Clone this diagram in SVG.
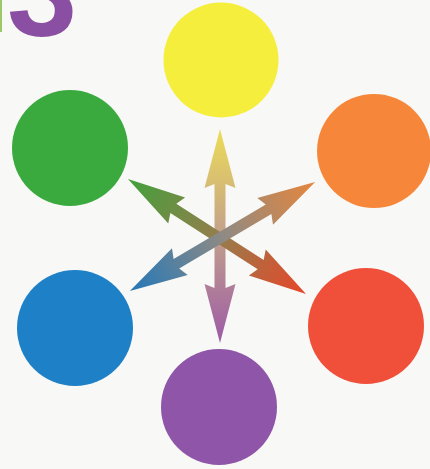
<svg xmlns="http://www.w3.org/2000/svg" width="430" height="469" viewBox="0 0 430 469">
<defs>
<style>
.digit{font-family:"Liberation Sans","DejaVu Sans",sans-serif;font-weight:bold;fill:#8a4ea2}
</style>
<linearGradient id="gV" gradientUnits="userSpaceOnUse" x1="-107" y1="0" x2="107" y2="0">
<stop offset="0" stop-color="#ecdc58"/><stop offset="0.5" stop-color="#c2a08c"/><stop offset="1" stop-color="#9c5aa6"/>
</linearGradient>
<linearGradient id="gGR" gradientUnits="userSpaceOnUse" x1="-106" y1="0" x2="106" y2="0">
<stop offset="0" stop-color="#42a03c"/><stop offset="0.5" stop-color="#947e4c"/><stop offset="1" stop-color="#e8462a"/>
</linearGradient>
<linearGradient id="gBO" gradientUnits="userSpaceOnUse" x1="-107.5" y1="0" x2="107.5" y2="0">
<stop offset="0" stop-color="#2478b8"/><stop offset="0.5" stop-color="#8e8a84"/><stop offset="1" stop-color="#e6863c"/>
</linearGradient>
</defs>
<rect width="430" height="469" fill="#f8f8f6"/>
<rect x="0" y="0" width="2" height="32" fill="#9cc86a"/>
<text class="digit" x="7" y="36" font-size="126">3</text>
<g id="connectors">
<path fill="url(#gV)" transform="translate(220,236) rotate(90)" d="M-107,0 L-48,-15.5 L-52,-5.5 L52,-5.5 L48,-15.5 L107,0 L48,15.5 L52,5.5 L-52,5.5 L-48,15.5 Z"/>
<path fill="url(#gGR)" transform="translate(217,236.5) rotate(32.87)" d="M-106,0 L-48,-15.5 L-52,-5.5 L52,-5.5 L48,-15.5 L106,0 L48,15.5 L52,5.5 L-52,5.5 L-48,15.5 Z"/>
<path fill="url(#gBO)" transform="translate(222.5,236.5) rotate(-30.5)" d="M-107.5,0 L-49.5,-15.5 L-53.5,-5.5 L53.5,-5.5 L49.5,-15.5 L107.5,0 L49.5,15.5 L53.5,5.5 L-53.5,5.5 L-49.5,15.5 Z"/>
</g>
<g id="yellow"><circle cx="221" cy="60" r="57.5" fill="#f6ee3c"/></g>
<g id="orange"><circle cx="374" cy="151" r="57" fill="#f6873a"/></g>
<g id="red"><circle cx="366" cy="326" r="58" fill="#f04f3a"/></g>
<g id="purple"><circle cx="219" cy="407" r="58" fill="#8e55a8"/></g>
<g id="blue"><circle cx="75" cy="328" r="58" fill="#1e80c6"/></g>
<g id="green"><circle cx="70" cy="148" r="58" fill="#3aa93e"/></g>
</svg>
